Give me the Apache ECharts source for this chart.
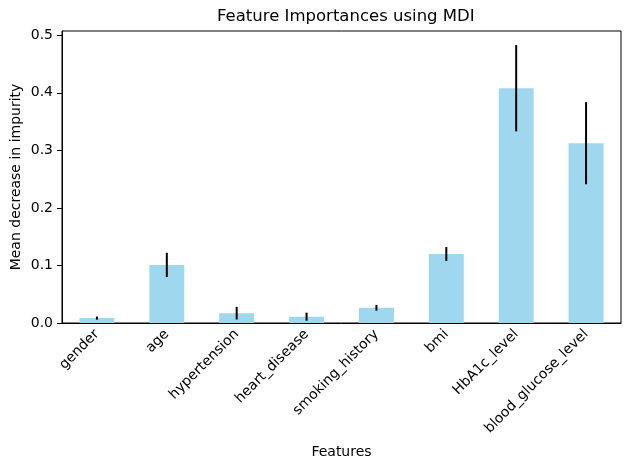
<!DOCTYPE html>
<html>
  <head>
    <meta charset="utf-8" />
    <script src="https://cdn.jsdelivr.net/npm/echarts@6.0.0/dist/echarts.min.js"></script>
  </head>
  <body style="margin:0">
    <div id="main" style="width: 630px;height:470px;"></div>
    <script type="text/javascript">
      var features = ['gender', 'age', 'hypertension', 'heart_disease', 'smoking_history', 'bmi', 'HbA1c_level', 'blood_glucose_level'];
      var importances = [0.0085, 0.101, 0.017, 0.011, 0.0265, 0.120, 0.408, 0.3125];
      var stdErr = [0.0027, 0.021, 0.011, 0.007, 0.005, 0.012, 0.075, 0.0714];

      var errData = [];
      for (var i = 0; i < features.length; i++) {
        errData.push([i, importances[i] - stdErr[i], importances[i] + stdErr[i]]);
      }

      var font = 'DejaVu Sans';
      var myChart = echarts.init(document.getElementById('main'));
      var option = {
        animation: false,
        title: {
          text: 'Feature Importances using MDI',
          left: 212,
          top: 3,
          textStyle: { fontFamily: font, fontSize: 16.5, fontWeight: 'normal', color: '#000' }
        },
        grid: {
          left: 62, right: 9, top: 31, bottom: 147,
          outerBoundsMode: 'none',
          containLabel: false,
          show: true, borderColor: '#000', borderWidth: 1, backgroundColor: 'transparent'
        },
        xAxis: {
          type: 'category',
          data: features,
          name: 'Features',
          nameLocation: 'middle',
          nameGap: 122,
          nameTextStyle: { fontFamily: font, fontSize: 14, color: '#000' },
          axisLine: { lineStyle: { color: '#000' } },
          axisTick: { alignWithLabel: true, length: 5, lineStyle: { color: '#000' } },
          axisLabel: { rotate: 45, interval: 0, fontFamily: font, fontSize: 14, color: '#000', margin: 9 }
        },
        yAxis: {
          type: 'value',
          min: 0,
          max: 0.5075,
          interval: 0.1,
          name: 'Mean decrease in impurity',
          nameLocation: 'middle',
          nameGap: 39,
          nameMoveOverlap: false,
          nameTextStyle: { fontFamily: font, fontSize: 14, color: '#000' },
          splitLine: { show: false },
          axisLine: { show: true, lineStyle: { color: '#000' } },
          axisTick: { show: true, length: 5, lineStyle: { color: '#000' } },
          axisLabel: {
            fontFamily: font, fontSize: 14, color: '#000', margin: 9,
            formatter: function (v) { return v.toFixed(1); }
          }
        },
        series: [
          {
            type: 'bar',
            data: importances,
            barWidth: '50%',
            itemStyle: { color: '#9FD7EE' }
          },
          {
            type: 'custom',
            data: errData,
            z: 10,
            renderItem: function (params, api) {
              var lo = api.coord([api.value(0), api.value(1)]);
              var hi = api.coord([api.value(0), api.value(2)]);
              return {
                type: 'line',
                shape: { x1: lo[0], y1: lo[1], x2: hi[0], y2: hi[1] },
                style: { stroke: '#000', lineWidth: 2 }
              };
            }
          }
        ]
      };
      myChart.setOption(option);
    </script>
  </body>
</html>
